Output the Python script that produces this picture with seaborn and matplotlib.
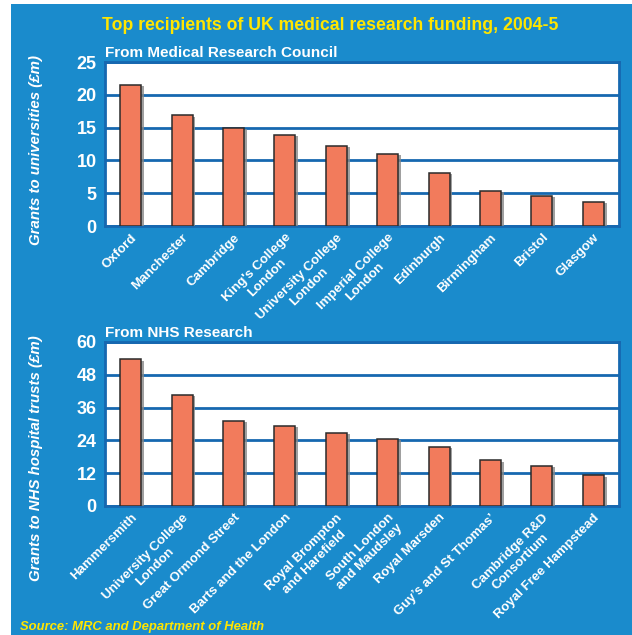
import seaborn as sns
import matplotlib.pyplot as plt
import matplotlib.patheffects as pe
from matplotlib.patches import Rectangle
import pandas as pd

# Datos
mrc_names = ["Oxford", "Manchester", "Cambridge", "King's College\nLondon",
             "University College\nLondon", "Imperial College\nLondon",
             "Edinburgh", "Birmingham", "Bristol", "Glasgow"]
mrc_values = [21.5, 16.9, 15.0, 13.9, 12.2, 11.0, 8.1, 5.4, 4.6, 3.7]

nhs_names = ["Hammersmith", "University College\nLondon", "Great Ormond Street",
             "Barts and the London", "Royal Brompton\nand Harefield",
             "South London\nand Maudsley", "Royal Marsden", "Guy\u2019s and St Thomas\u2019",
             "Cambridge R&D\nConsortium", "Royal Free Hampstead"]
nhs_values = [53.6, 40.6, 31.2, 29.4, 26.8, 24.5, 21.6, 16.7, 14.6, 11.3]

mrc_ticks = [0, 5, 10, 15, 20, 25]
nhs_ticks = [0, 12, 24, 36, 48, 60]

BLUE = "#1a8bcc"
GRID = "#1668b0"
BAR = "#f27b5c"
YELLOW = "#ffe500"

sns.set_theme(style="white")
plt.rcParams["font.family"] = ["Liberation Sans", "DejaVu Sans"]
plt.rcParams["font.weight"] = "bold"

fig = plt.figure(figsize=(6.32, 6.35), dpi=100)
fig.patch.set_facecolor("white")
fig.patches.append(Rectangle((11 / 632, 0), 1, 1 - 4 / 635, transform=fig.transFigure,
                             facecolor=BLUE, edgecolor="none", zorder=-10))


def draw_panel(rect, names, values, ticks, subtitle):
    ax = fig.add_axes(rect)
    df = pd.DataFrame({"name": names, "value": values})
    sns.barplot(data=df, x="name", y="value", color=BAR, width=0.41,
                saturation=1, edgecolor="#2b2b2b", linewidth=1.1, ax=ax, zorder=3)
    for p in ax.patches:
        p.set_path_effects([pe.SimplePatchShadow(offset=(2, -1), shadow_rgbFace="#888888", alpha=0.8),
                            pe.Normal()])
    ax.set_facecolor("white")
    ax.set_ylim(ticks[0], ticks[-1])
    ax.set_yticks(ticks)
    ax.yaxis.grid(True, color=GRID, linewidth=2, zorder=1)
    ax.xaxis.grid(False)
    for s in ax.spines.values():
        s.set_color(GRID)
        s.set_linewidth(2)
    ax.tick_params(axis="y", colors="white", labelsize=13, length=0, pad=6)
    ax.tick_params(axis="x", colors="white", length=0, pad=4)
    ax.set_xticks(range(len(names)))
    ax.set_xticklabels(names, rotation=45, ha="right", rotation_mode="anchor",
                       fontsize=9.5, multialignment="center")
    ax.set_xlabel("")
    ax.set_ylabel("")
    ax.text(0, 1.012, subtitle, transform=ax.transAxes, color="white",
            fontsize=11, fontweight="bold", ha="left", va="bottom")
    return ax


ax1 = draw_panel([105 / 632, 1 - 226 / 635, 514 / 632, 164 / 635],
                 mrc_names, mrc_values, mrc_ticks, "From Medical Research Council")
ax2 = draw_panel([105 / 632, 1 - 506 / 635, 514 / 632, 164 / 635],
                 nhs_names, nhs_values, nhs_ticks, "From NHS Research")

fig.text(36 / 632, 1 - 150 / 635, "Grants to universities (\u00a3m)", rotation=90,
         color="white", fontsize=10.8, fontstyle="italic", fontweight="bold",
         ha="center", va="center")
fig.text(36 / 632, 1 - 458 / 635, "Grants to NHS hospital trusts (\u00a3m)", rotation=90,
         color="white", fontsize=10.8, fontstyle="italic", fontweight="bold",
         ha="center", va="center")

fig.text(330 / 632, 1 - 25 / 635, "Top recipients of UK medical research funding, 2004-5",
         color=YELLOW, fontsize=12.7, fontweight="bold", ha="center", va="center")
fig.text(20 / 632, 1 - 627 / 635, "Source: MRC and Department of Health",
         color=YELLOW, fontsize=9.4, fontweight="bold", fontstyle="italic",
         ha="left", va="center")

fig.savefig("out.png", dpi=100, facecolor=fig.get_facecolor())
